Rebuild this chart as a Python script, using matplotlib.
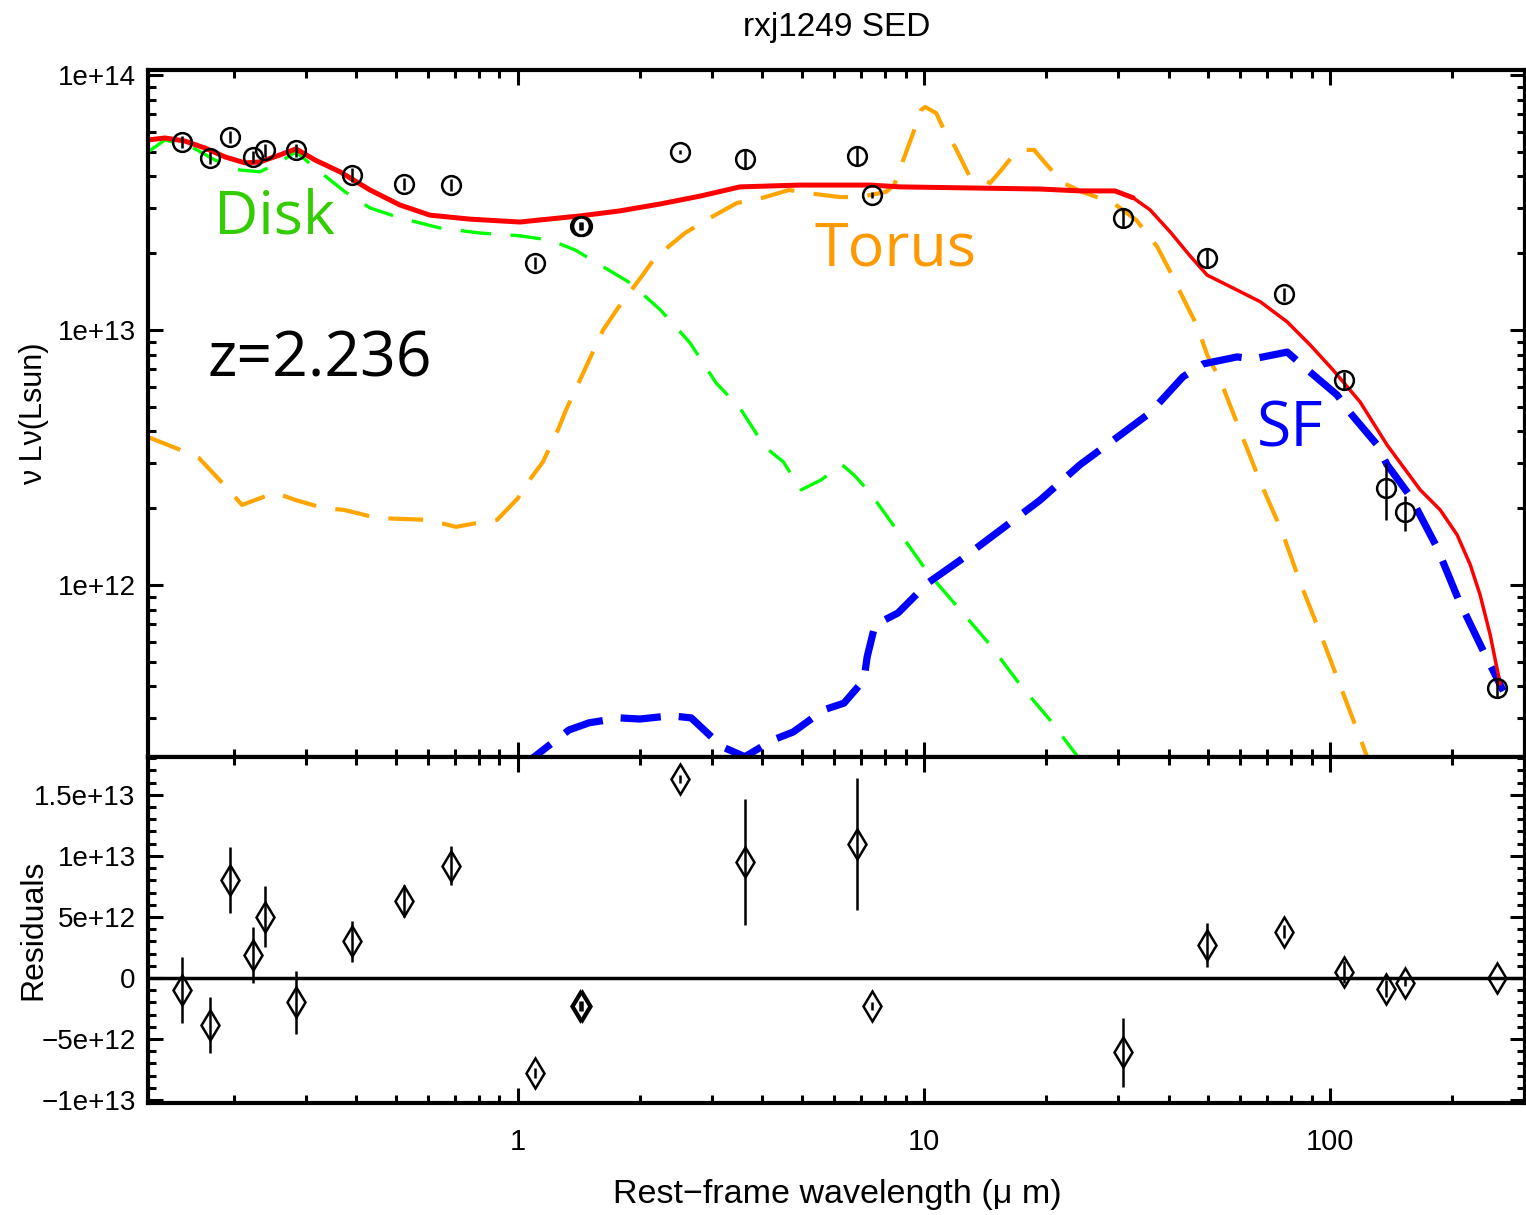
import numpy as np
import matplotlib
matplotlib.use("Agg")
import matplotlib.pyplot as plt
from matplotlib.ticker import FixedLocator, FixedFormatter, NullFormatter, MultipleLocator

plt.rcParams['lines.scale_dashes'] = False
plt.rcParams['font.family'] = ['Liberation Sans Narrow', 'Liberation Sans', 'DejaVu Sans']

# ---------------- data ----------------
obs_wave = [0.149, 0.174, 0.195, 0.222, 0.238, 0.284, 0.390, 0.524, 0.684, 1.10,
            1.42, 1.44, 2.51, 3.62, 6.84, 7.44, 30.9, 49.7, 77.0, 108.0, 137.0, 153.0, 258.0]
obs_lum = [5.46e13, 4.73e13, 5.71e13, 4.77e13, 5.08e13, 5.08e13, 4.05e13, 3.74e13, 3.71e13, 1.83e13,
           2.56e13, 2.56e13, 4.99e13, 4.69e13, 4.81e13, 3.38e13, 2.75e13, 1.92e13, 1.38e13, 6.37e12,
           2.40e12, 1.93e12, 3.95e11]
obs_err = [3e12, 2.5e12, 3e12, 2.5e12, 3e12, 3e12, 2.5e12, 2e12, 2e12, 1e12,
           1e12, 1e12, 1e12, 4e12, 4e12, 1e12, 2.5e12, 1.5e12, 0.8e12, 0.5e12,
           0.6e12, 0.3e12, 0.03e12]

res_val = [-1.0e12, -3.85e12, 8.0e12, 1.9e12, 5.0e12, -2.0e12, 3.0e12, 6.3e12, 9.2e12, -7.8e12,
           -2.3e12, -2.3e12, 1.63e13, 9.5e12, 1.1e13, -2.3e12, -6.1e12, 2.7e12, 3.8e12, 0.5e12,
           -0.9e12, -0.4e12, 0.0]
res_err = [2.7e12, 2.3e12, 2.7e12, 2.3e12, 2.5e12, 2.6e12, 1.7e12, 1.3e12, 1.6e12, 0.4e12,
           0.4e12, 0.4e12, 0.3e12, 5.2e12, 5.4e12, 0.3e12, 2.8e12, 1.8e12, 0.5e12, 0.9e12,
           0.7e12, 0.3e12, 0.1e12]

total_wave = [0.1227, 0.135, 0.151, 0.1694, 0.190, 0.2127, 0.2315, 0.2594, 0.284, 0.3163,
              0.3645, 0.432, 0.512, 0.607, 0.762, 1.011, 1.133, 1.42, 1.78, 2.24,
              2.81, 3.52, 4.95, 7.36, 8.73, 12.27, 19.3, 24.2, 29.5, 32.7,
              36.0, 40.4, 45.2, 49.8, 56.7, 67.3, 78.4, 89.3, 101.7, 118.5,
              138.1, 166.6, 186.6, 205.5, 221.3, 234.0, 247.8, 262.2]
total_lum = [5.56e13, 5.66e13, 5.51e13, 5.17e13, 4.77e13, 4.52e13, 4.56e13, 4.86e13, 5.13e13, 4.64e13,
             4.17e13, 3.54e13, 3.09e13, 2.82e13, 2.72e13, 2.65e13, 2.70e13, 2.80e13, 2.93e13, 3.12e13,
             3.35e13, 3.64e13, 3.70e13, 3.70e13, 3.64e13, 3.61e13, 3.57e13, 3.51e13, 3.51e13, 3.30e13,
             2.96e13, 2.42e13, 1.95e13, 1.64e13, 1.48e13, 1.29e13, 1.075e13, 8.73e12, 6.96e12, 5.22e12,
             3.54e12, 2.36e12, 1.97e12, 1.57e12, 1.20e12, 9.14e11, 6.37e11, 4.09e11]

disk_wave = [0.1227, 0.135, 0.1553, 0.1794, 0.2066, 0.2315, 0.2594, 0.284, 0.3253, 0.375,
             0.432, 0.512, 0.643, 0.806, 1.011, 1.199, 1.382, 1.592, 1.888, 2.24,
             2.652, 3.074, 3.52, 4.06, 4.50, 4.98, 5.57, 6.28, 6.72, 7.36,
             8.39, 9.13, 10.23, 12.27, 14.54, 17.24, 20.4, 23.9, 25.6]
disk_lum = [4.99e13, 5.56e13, 5.27e13, 4.64e13, 4.24e13, 4.17e13, 4.56e13, 4.99e13, 4.17e13, 3.48e13,
            3.01e13, 2.75e13, 2.51e13, 2.40e13, 2.34e13, 2.25e13, 2.06e13, 1.80e13, 1.53e13, 1.20e13,
            8.9e12, 6.2e12, 4.94e12, 3.47e12, 3.04e12, 2.36e12, 2.58e12, 2.96e12, 2.70e12, 2.30e12,
            1.72e12, 1.44e12, 1.115e12, 7.98e11, 5.82e11, 4.06e11, 2.96e11, 2.12e11, 1.8e11]

torus_wave = [0.1227, 0.1438, 0.1637, 0.194, 0.209, 0.252, 0.284, 0.3327, 0.3727, 0.4496,
              0.600, 0.7036, 0.7926, 0.888, 1.0, 1.058, 1.152, 1.254, 1.313, 1.421,
              1.620, 1.763, 2.009, 2.175, 2.578, 2.97, 3.463, 3.855, 4.65, 5.18,
              6.21, 6.96, 8.06, 8.44, 8.83, 9.40, 9.83, 10.06, 10.71, 11.2,
              11.92, 12.9, 14.54, 15.5, 16.6, 17.6, 18.66, 19.86, 22.0, 24.5,
              29.2, 33.3, 37.5, 40.4, 44.0, 47.0, 49.8, 53.6, 60.0, 67.3,
              76.2, 84.4, 94.5, 105.9, 118.5, 126.8]
torus_lum = [3.80e12, 3.44e12, 3.15e12, 2.36e12, 2.06e12, 2.30e12, 2.15e12, 2.00e12, 1.97e12, 1.83e12,
             1.80e12, 1.69e12, 1.75e12, 1.80e12, 2.19e12, 2.53e12, 3.04e12, 4.05e12, 4.86e12, 6.37e12,
             1.0e13, 1.22e13, 1.61e13, 1.92e13, 2.40e13, 2.75e13, 3.15e13, 3.24e13, 3.54e13, 3.44e13,
             3.32e13, 3.32e13, 3.48e13, 3.70e13, 4.52e13, 5.92e13, 7.29e13, 7.49e13, 7.09e13, 6.08e13,
             5.22e13, 4.05e13, 3.77e13, 4.24e13, 4.86e13, 5.08e13, 5.08e13, 4.52e13, 3.77e13, 3.48e13,
             3.15e13, 2.70e13, 2.12e13, 1.69e13, 1.28e13, 1.04e13, 7.98e12, 6.37e12, 4.02e12, 2.53e12,
             1.61e12, 1.02e12, 6.48e11, 4.02e11, 2.51e11, 1.88e11]

sf_wave = [1.011, 1.089, 1.335, 1.496, 1.78, 1.998, 2.38, 2.67, 3.18, 3.62,
           4.25, 4.76, 5.67, 6.35, 7.11, 7.24, 7.57, 8.63, 10.23, 12.27,
           15.4, 19.3, 24.2, 30.4, 36.0, 43.4, 48.7, 59.0, 64.6, 78.4,
           86.8, 104.0, 112.0, 130.6, 138.1, 157.4, 183.4, 206.7, 238.3, 266.9]
sf_lum = [1.88e11, 2.10e11, 2.70e11, 2.88e11, 3.01e11, 2.98e11, 3.07e11, 3.01e11, 2.32e11, 2.12e11,
          2.47e11, 2.65e11, 3.24e11, 3.44e11, 4.24e11, 5.22e11, 6.97e11, 7.77e11, 1.02e12, 1.25e12,
          1.64e12, 2.15e12, 2.96e12, 3.87e12, 4.73e12, 6.55e12, 7.36e12, 7.84e12, 7.70e12, 8.19e12,
          7.10e12, 5.56e12, 4.73e12, 3.54e12, 2.96e12, 2.23e12, 1.40e12, 8.81e11, 5.51e11, 3.84e11]

x_major = [1, 10, 100]
x_major_labels = ['1', '10', '100']
y_major = [1e12, 1e13, 1e14]
y_major_labels = ['1e+12', '1e+13', '1e+14']
r_major = [-1e13, -5e12, 0, 5e12, 1e13, 1.5e13]
r_major_labels = ['\u22121e+13', '\u22125e+12', '0', '5e+12', '1e+13', '1.5e+13']

# ---------------- figure ----------------
fig = plt.figure(figsize=(15.26, 12.15), dpi=100)
ax1 = fig.add_axes([0.097, 0.377, 0.9024, 0.5654])
ax2 = fig.add_axes([0.097, 0.0922, 0.9024, 0.2848])

xlim = (0.1227, 302)
x_minor = [m * 10.0 ** e for e in (-1, 0, 1, 2) for m in range(2, 10)]

# top panel
ax1.plot(torus_wave, torus_lum, color='#ffa500', lw=3.0, dashes=(25, 14))
ax1.plot(disk_wave, disk_lum, color='#00ff00', lw=2.4, dashes=(22, 14))
ax1.plot(sf_wave, sf_lum, color='#0000ff', lw=5.2, dashes=(29, 13))
split = 29  # index of the point near 33 micron where the red line gets thinner
ax1.plot(total_wave[:split + 1], total_lum[:split + 1], color='#ff0000', lw=3.6,
         solid_capstyle='round')
ax1.plot(total_wave[split:], total_lum[split:], color='#ff0000', lw=2.5,
         solid_capstyle='round')
ax1.errorbar(obs_wave, obs_lum, yerr=obs_err, fmt='none', ecolor='black', elinewidth=1.8)
ax1.plot(obs_wave, obs_lum, linestyle='none', marker='o', ms=13.5, mfc='none',
         mec='black', mew=1.8)

ax1.set_xscale('log')
ax1.set_yscale('log')
ax1.set_xlim(*xlim)
ax1.set_ylim(2.116e11, 1.046e14)

ax1.text(0.252, 2.75e13, 'Disk', color='#33cc00', fontsize=44, family='Open Sans',
         ha='center', va='center')
ax1.text(0.325, 7.63e12, 'z=2.236', color='black', fontsize=45, family='Open Sans',
         ha='center', va='center')
ax1.text(8.48, 2.06e13, 'Torus', color='#ff9900', fontsize=44, family='Open Sans',
         ha='center', va='center')
ax1.text(79.7, 4.05e12, 'SF', color='#0000ff', fontsize=45, family='Open Sans',
         ha='center', va='center')

# bottom panel
ax2.axhline(0, color='black', lw=2.5)
ax2.errorbar(obs_wave, res_val, yerr=res_err, fmt='none', ecolor='black', elinewidth=1.8)
ax2.plot(obs_wave, res_val, linestyle='none', marker='d', ms=15, mfc='none',
         mec='black', mew=1.8)
ax2.set_xscale('log')
ax2.set_xlim(*xlim)
ax2.set_ylim(-1.025e13, 1.811e13)

for ax in (ax1, ax2):
    ax.xaxis.set_major_locator(FixedLocator(x_major))
    ax.xaxis.set_minor_locator(FixedLocator(x_minor))
    ax.xaxis.set_minor_formatter(NullFormatter())
    ax.tick_params(which='both', direction='in', top=True, right=True, width=2.2)
    ax.tick_params(which='major', length=11)
    ax.tick_params(which='minor', length=6)
    ax.tick_params(axis='y', labelsize=20, pad=9)
    ax.tick_params(axis='x', labelsize=21, pad=18)
    for s in ax.spines.values():
        s.set_linewidth(3)

ax1.xaxis.set_major_formatter(NullFormatter())
ax2.xaxis.set_major_formatter(FixedFormatter(x_major_labels))

ax1.yaxis.set_major_locator(FixedLocator(y_major))
ax1.yaxis.set_major_formatter(FixedFormatter(y_major_labels))
ax1.yaxis.set_minor_locator(FixedLocator([m * 10.0 ** e for e in (11, 12, 13) for m in range(2, 10)]))
ax1.yaxis.set_minor_formatter(NullFormatter())

ax2.yaxis.set_major_locator(FixedLocator(r_major))
ax2.yaxis.set_major_formatter(FixedFormatter(r_major_labels))
ax2.yaxis.set_minor_locator(MultipleLocator(1e12))
ax2.yaxis.set_minor_formatter(NullFormatter())

fig.text(0.548, 0.977, 'rxj1249 SED', ha='center', va='center', fontsize=24)
fig.text(0.022, 1 - 414 / 1215, '\u03bd L\u03bd(Lsun)', rotation=90, ha='center', va='center', fontsize=22)
fig.text(0.022, 1 - 930 / 1215, 'Residuals', rotation=90, ha='center', va='center', fontsize=23)
fig.text(0.549, 1 - 1195 / 1215, 'Rest\u2212frame wavelength (\u03bc m)', ha='center', va='center', fontsize=24.5)

fig.savefig('out.png', dpi=100)
